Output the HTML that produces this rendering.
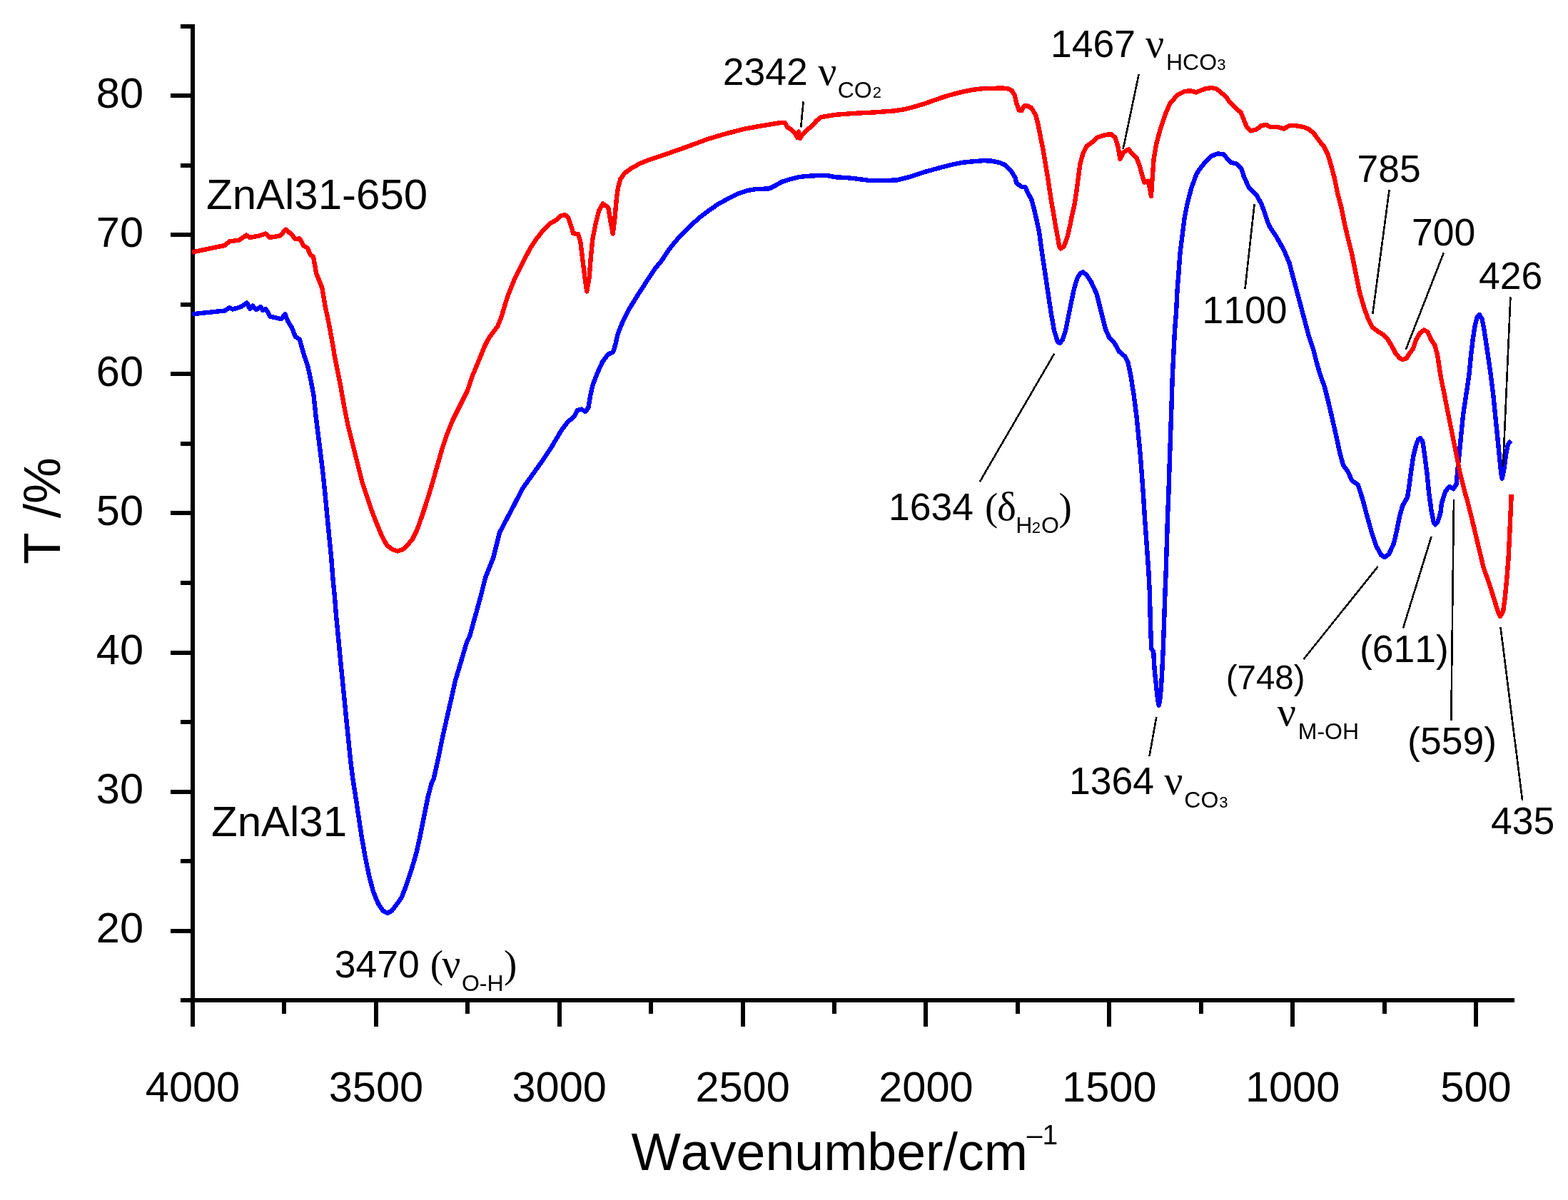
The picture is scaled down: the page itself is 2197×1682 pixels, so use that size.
<!DOCTYPE html>
<html lang="en">
<head>
<meta charset="utf-8">
<title>FTIR spectra of ZnAl31 and ZnAl31-650</title>
<style>
html,body{margin:0;padding:0;background:#fff;}
body{width:2197px;height:1682px;overflow:hidden;font-family:"Liberation Sans",Arial,sans-serif;}
svg{display:block;}
</style>
</head>
<body>
<svg width="2197" height="1682" viewBox="0 0 2197 1682" role="img" aria-label="FTIR transmittance spectra of ZnAl31 and ZnAl31-650">
<rect x="0" y="0" width="2197" height="1682" fill="#fff"/>
<g fill="#000" shape-rendering="crispEdges">
<rect x="267" y="34" width="6" height="1405"/>
<rect x="253" y="1399" width="1869" height="6"/>
<rect x="253" y="34" width="16" height="6"/>
<rect x="239" y="131" width="30" height="6"/>
<rect x="253" y="229" width="16" height="6"/>
<rect x="239" y="326" width="30" height="6"/>
<rect x="253" y="424" width="16" height="6"/>
<rect x="239" y="521" width="30" height="6"/>
<rect x="253" y="619" width="16" height="6"/>
<rect x="239" y="716" width="30" height="6"/>
<rect x="253" y="814" width="16" height="6"/>
<rect x="239" y="912" width="30" height="6"/>
<rect x="253" y="1009" width="16" height="6"/>
<rect x="239" y="1107" width="30" height="6"/>
<rect x="253" y="1204" width="16" height="6"/>
<rect x="239" y="1302" width="30" height="6"/>
<rect x="395" y="1402" width="6" height="19"/>
<rect x="524" y="1402" width="6" height="37"/>
<rect x="652" y="1402" width="6" height="19"/>
<rect x="781" y="1402" width="6" height="37"/>
<rect x="909" y="1402" width="6" height="19"/>
<rect x="1038" y="1402" width="6" height="37"/>
<rect x="1166" y="1402" width="6" height="19"/>
<rect x="1294" y="1402" width="6" height="37"/>
<rect x="1423" y="1402" width="6" height="19"/>
<rect x="1551" y="1402" width="6" height="37"/>
<rect x="1680" y="1402" width="6" height="19"/>
<rect x="1808" y="1402" width="6" height="37"/>
<rect x="1937" y="1402" width="6" height="19"/>
<rect x="2065" y="1402" width="6" height="37"/>
</g>
<path d="M269.3,440.3 L314.7,435.5 L321.5,431.4 L326.3,433.5 L337.9,430.0 L346.1,424.6 L350.2,432.8 L354.3,428.7 L359.1,434.2 L365.2,430.0 L368.0,434.9 L372.1,432.8 L376.2,439.0 L378.2,443.7 L385.7,445.1 L393.9,447.2 L399.4,440.3 L403.5,450.6 L409.0,459.5 L413.8,471.8 L419.9,475.9 L424.0,490.9 L426.7,500.0 L431.4,513.7 L435.5,532.8 L439.6,554.7 L442.4,582.0 L445.8,609.3 L449.2,636.7 L452.6,664.0 L455.4,691.3 L458.8,727.3 L461.5,754.7 L464.2,782.0 L466.3,809.3 L469.0,836.7 L471.1,864.0 L473.8,891.3 L477.2,927.3 L480.0,954.7 L482.7,982.0 L485.4,1009.3 L488.2,1036.7 L490.9,1064.0 L494.3,1091.3 L498.4,1117.3 L502.5,1144.7 L506.6,1172.0 L511.4,1199.3 L516.9,1226.7 L523.0,1249.9 L529.8,1266.3 L536.7,1276.6 L542.8,1280.0 L549.0,1276.6 L555.8,1267.7 L562.6,1258.1 L569.5,1240.3 L576.3,1219.8 L583.1,1196.6 L588.6,1172.0 L594.1,1144.7 L599.5,1117.3 L605.0,1096.8 L607.7,1091.3 L613.9,1064.0 L619.4,1036.7 L625.5,1009.3 L631.7,982.0 L637.8,954.7 L646.0,927.3 L654.0,900.0 L658.3,891.3 L665.8,864.0 L673.3,836.7 L680.2,809.3 L691.1,782.0 L700.0,746.5 L721.8,705.0 L732.0,685.0 L745.7,665.9 L759.3,646.7 L773.0,626.2 L786.7,603.0 L794.9,592.1 L804.4,583.9 L809.2,575.0 L814.7,573.6 L820.2,577.0 L824.3,571.6 L827.0,555.2 L830.4,540.1 L837.2,522.4 L844.1,507.3 L852.3,496.4 L858.9,493.7 L862.0,484.1 L865.9,467.2 L872.0,452.2 L881.6,433.1 L892.5,415.3 L904.8,396.2 L918.5,375.7 L927.4,365.0 L937.7,349.1 L951.3,332.7 L965.0,319.0 L978.7,306.1 L992.3,295.8 L1006.0,286.2 L1019.7,278.7 L1033.3,271.9 L1047.0,267.1 L1059.5,265.1 L1077.8,264.4 L1086.0,260.3 L1095.6,254.8 L1106.5,251.4 L1120.2,248.0 L1130.0,246.9 L1143.7,246.2 L1160.0,246.2 L1171.0,248.3 L1184.7,249.0 L1198.3,250.3 L1218.8,253.1 L1239.3,253.1 L1257.1,252.4 L1273.5,248.3 L1294.0,241.5 L1321.3,233.9 L1335.0,230.5 L1348.7,227.8 L1362.3,226.4 L1378.7,225.1 L1389.7,225.7 L1400.0,227.8 L1408.2,231.2 L1416.4,239.4 L1422.6,249.0 L1423.9,255.8 L1430.1,261.3 L1436.9,262.6 L1441.0,272.2 L1445.1,279.0 L1449.2,294.1 L1452.6,309.1 L1456.0,325.0 L1460.1,354.7 L1464.2,382.0 L1468.3,409.3 L1472.4,436.7 L1477.2,464.0 L1482.0,479.0 L1484.7,481.1 L1488.8,476.3 L1492.9,464.0 L1497.0,443.5 L1501.1,423.0 L1505.2,403.9 L1509.3,390.2 L1513.4,383.4 L1517.5,381.3 L1523.0,386.1 L1528.5,394.3 L1536.7,412.1 L1540.8,428.5 L1544.9,444.9 L1549.0,461.3 L1554.4,473.6 L1561.3,480.4 L1568.1,492.7 L1576.3,499.5 L1580.4,507.7 L1584.3,526.0 L1588.8,554.7 L1592.3,582.0 L1595.0,609.3 L1597.7,636.7 L1599.8,664.0 L1601.8,691.3 L1603.9,725.0 L1609.3,800.0 L1610.7,827.3 L1611.8,868.3 L1613.2,909.3 L1616.2,913.4 L1617.5,936.7 L1620.3,964.0 L1622.3,981.8 L1623.7,988.6 L1625.7,977.7 L1627.8,950.3 L1629.8,909.3 L1631.2,868.3 L1632.6,827.3 L1633.7,800.0 L1636.0,725.0 L1637.4,691.3 L1638.7,650.3 L1640.1,609.3 L1641.5,568.3 L1642.8,527.3 L1644.6,491.3 L1646.0,464.0 L1648.1,436.7 L1649.4,409.3 L1651.5,382.0 L1653.5,354.7 L1656.9,327.3 L1659.7,305.0 L1663.8,284.5 L1669.2,264.0 L1676.1,244.9 L1680.0,238.0 L1688.2,228.0 L1697.8,218.5 L1706.0,215.5 L1714.2,216.2 L1719.6,222.3 L1725.1,227.8 L1733.3,229.8 L1739.4,236.7 L1742.9,247.6 L1749.7,262.6 L1760.6,273.6 L1767.5,285.9 L1772.9,300.9 L1777.0,313.2 L1779.1,317.8 L1787.3,330.1 L1798.3,349.2 L1806.5,368.3 L1811.9,388.8 L1817.4,409.3 L1822.9,429.8 L1828.3,450.3 L1833.8,470.8 L1840.6,491.3 L1844.7,507.7 L1849.1,523.2 L1856.0,542.4 L1861.4,564.2 L1866.9,587.5 L1872.4,612.1 L1877.8,636.7 L1881.9,651.7 L1888.8,661.3 L1894.2,673.6 L1902.4,679.0 L1906.5,691.3 L1909.3,700.0 L1914.7,720.5 L1921.6,745.1 L1928.4,765.6 L1935.2,777.9 L1940.0,781.3 L1946.2,776.5 L1953.0,761.5 L1957.1,743.7 L1961.2,723.2 L1965.3,708.7 L1972.1,696.8 L1974.9,677.7 L1977.6,657.2 L1980.3,639.4 L1984.4,623.0 L1987.2,616.2 L1989.9,614.1 L1993.3,618.9 L1996.0,636.7 L1999.5,664.0 L2002.2,691.3 L2005.6,716.0 L2009.0,733.5 L2011.1,735.3 L2014.5,731.4 L2018.6,717.8 L2020.0,705.0 L2025.4,688.6 L2030.9,681.8 L2036.4,685.2 L2040.5,679.0 L2042.5,657.2 L2044.6,636.7 L2047.3,609.3 L2050.0,582.0 L2054.1,554.7 L2058.2,527.3 L2061.1,497.6 L2063.8,474.8 L2066.6,456.6 L2069.7,444.7 L2072.9,441.1 L2076.6,447.4 L2079.3,461.1 L2082.1,479.3 L2084.8,497.6 L2089.0,527.3 L2092.4,554.7 L2095.1,582.0 L2097.9,609.3 L2100.6,636.7 L2103.3,664.0 L2104.7,670.8 L2107.4,657.2 L2110.2,636.7 L2112.9,623.0 L2117.0,617.5" fill="none" stroke="#0000ff" stroke-width="6.4" stroke-linejoin="round" stroke-linecap="butt" shape-rendering="crispEdges"/>
<path d="M269.3,353.5 L314.7,344.0 L321.5,338.5 L335.2,336.5 L345.4,329.6 L350.2,333.0 L363.9,330.3 L372.1,327.6 L378.2,333.0 L392.6,330.3 L400.5,321.7 L409.0,329.0 L413.8,335.1 L419.9,334.4 L425.4,344.7 L430.8,347.4 L434.9,357.0 L439.0,359.7 L443.1,382.9 L451.3,403.4 L455.4,428.0 L460.9,454.0 L466.4,484.0 L469.0,500.0 L473.1,520.5 L477.2,541.0 L482.0,568.3 L487.5,595.7 L494.3,623.0 L501.1,650.3 L508.0,677.7 L516.2,702.3 L521.6,717.8 L528.5,735.5 L535.3,751.9 L542.1,764.2 L550.3,770.4 L557.2,772.4 L564.0,770.4 L570.8,764.2 L577.7,756.0 L584.5,742.4 L591.3,723.2 L598.2,702.3 L605.7,677.7 L613.4,650.3 L619.3,629.8 L626.1,609.3 L634.3,588.8 L646.6,564.2 L654.8,547.8 L661.7,527.3 L671.1,505.0 L678.0,487.7 L684.8,474.1 L697.1,457.7 L702.6,444.0 L706.7,430.3 L710.8,416.7 L716.2,403.0 L721.7,389.3 L728.5,375.7 L735.4,362.0 L743.6,347.0 L751.8,334.7 L761.3,322.4 L770.4,313.5 L778.7,308.7 L786.7,301.9 L792.1,301.5 L796.2,305.3 L800.3,316.9 L803.1,327.1 L809.9,328.1 L813.3,338.8 L816.1,362.0 L819.5,389.3 L822.2,408.5 L825.6,389.3 L827.7,362.0 L830.4,334.7 L834.5,314.2 L839.3,295.0 L844.8,285.5 L852.3,291.0 L855.3,309.0 L858.7,327.5 L861.5,305.5 L863.9,278.0 L866.0,263.0 L869.4,250.7 L875.5,242.5 L883.7,236.4 L897.4,228.8 L911.1,223.4 L935.7,215.2 L963.0,205.6 L990.3,195.4 L1017.7,187.2 L1045.0,180.3 L1072.3,175.5 L1092.8,172.1 L1099.7,172.1 L1103.4,178.4 L1108.0,181.0 L1113.6,186.6 L1117.3,192.8 L1118.4,188.0 L1119.0,184.5 L1119.8,189.0 L1120.9,193.8 L1124.5,188.5 L1129.1,183.5 L1133.0,180.0 L1137.0,177.5 L1140.5,173.4 L1144.5,168.8 L1150.5,164.2 L1171.0,160.8 L1198.3,158.8 L1225.7,157.4 L1253.0,155.4 L1266.7,153.3 L1280.3,149.9 L1294.0,145.8 L1307.7,141.0 L1321.3,136.2 L1335.0,132.1 L1348.7,128.7 L1362.3,126.0 L1376.0,124.3 L1389.7,123.9 L1403.3,123.5 L1411.2,123.9 L1417.4,126.6 L1421.5,133.0 L1424.5,145.5 L1427.6,154.3 L1431.5,155.2 L1434.9,148.5 L1439.6,148.5 L1445.1,151.3 L1451.3,161.5 L1454.7,175.2 L1458.1,192.9 L1461.5,209.3 L1464.9,229.8 L1468.3,250.3 L1472.4,277.7 L1475.9,298.2 L1479.3,318.7 L1481.0,327.0 L1484.1,345.1 L1486.1,348.5 L1490.9,345.1 L1495.7,331.4 L1499.8,313.7 L1502.0,302.0 L1505.2,288.6 L1508.0,270.8 L1510.7,250.3 L1513.4,229.8 L1517.5,214.8 L1523.0,204.5 L1529.8,199.8 L1536.7,192.9 L1544.9,190.2 L1550.3,188.8 L1557.2,188.2 L1562.6,192.9 L1566.7,206.6 L1569.5,223.0 L1574.3,213.4 L1581.1,209.3 L1585.9,214.8 L1592.7,221.6 L1596.8,232.6 L1600.9,247.6 L1603.6,255.8 L1608.4,253.8 L1611.2,264.0 L1612.9,274.9 L1614.6,250.3 L1616.6,223.0 L1620.0,202.5 L1625.5,182.0 L1632.3,161.5 L1639.2,145.1 L1650.1,132.8 L1659.7,128.0 L1667.9,127.3 L1676.1,129.4 L1684.3,126.0 L1688.2,124.6 L1697.8,123.0 L1704.6,124.6 L1711.4,130.1 L1718.3,136.2 L1722.4,142.4 L1729.2,149.2 L1738.8,158.1 L1742.9,168.3 L1747.0,177.9 L1752.4,183.4 L1760.6,181.3 L1767.5,175.9 L1774.3,174.9 L1779.8,177.9 L1790.7,178.2 L1798.9,180.4 L1807.1,175.9 L1813.9,175.9 L1826.2,177.9 L1834.4,181.3 L1841.3,187.5 L1848.1,197.0 L1854.9,205.2 L1860.4,216.2 L1864.5,229.8 L1870.0,250.3 L1874.1,270.8 L1879.5,291.3 L1883.6,311.8 L1887.1,327.3 L1893.9,354.7 L1899.4,382.0 L1904.9,409.3 L1911.7,432.6 L1917.2,447.6 L1922.6,458.5 L1930.8,464.7 L1939.0,469.5 L1945.9,477.7 L1951.3,487.2 L1955.4,495.4 L1960.9,501.6 L1965.0,504.3 L1970.5,502.3 L1975.9,494.1 L1980.0,488.6 L1984.1,476.3 L1989.6,466.7 L1995.1,462.6 L2000.5,465.4 L2005.3,476.3 L2010.1,483.1 L2014.2,498.2 L2018.6,527.3 L2024.1,554.7 L2029.5,582.0 L2035.0,609.3 L2040.5,636.7 L2045.9,664.0 L2052.8,691.3 L2055.5,700.0 L2062.3,727.3 L2070.5,761.5 L2078.7,795.7 L2086.9,818.9 L2093.8,840.8 L2099.2,858.5 L2102.0,864.0 L2106.1,857.2 L2108.8,836.7 L2111.5,809.3 L2113.6,782.0 L2115.6,741.0 L2117.7,693.0" fill="none" stroke="#ff0000" stroke-width="6.4" stroke-linejoin="round" stroke-linecap="butt" shape-rendering="crispEdges"/>
<g font-family="'Liberation Sans', Arial, sans-serif" fill="#000" style="font-kerning:none">
<text x="201" y="1321.0" font-size="59.5" text-anchor="end">20</text>
<text x="201" y="1125.9" font-size="59.5" text-anchor="end">30</text>
<text x="201" y="930.8" font-size="59.5" text-anchor="end">40</text>
<text x="201" y="735.7" font-size="59.5" text-anchor="end">50</text>
<text x="201" y="540.7" font-size="59.5" text-anchor="end">60</text>
<text x="201" y="345.6" font-size="59.5" text-anchor="end">70</text>
<text x="201" y="150.5" font-size="59.5" text-anchor="end">80</text>
<text x="270.0" y="1543.5" font-size="59.5" text-anchor="middle">4000</text>
<text x="526.9" y="1543.5" font-size="59.5" text-anchor="middle">3500</text>
<text x="783.7" y="1543.5" font-size="59.5" text-anchor="middle">3000</text>
<text x="1040.6" y="1543.5" font-size="59.5" text-anchor="middle">2500</text>
<text x="1297.4" y="1543.5" font-size="59.5" text-anchor="middle">2000</text>
<text x="1554.3" y="1543.5" font-size="59.5" text-anchor="middle">1500</text>
<text x="1811.1" y="1543.5" font-size="59.5" text-anchor="middle">1000</text>
<text x="2068.0" y="1543.5" font-size="59.5" text-anchor="middle">500</text>
<text><tspan x="289.0" y="292.7" font-size="60">ZnAl31-650</tspan></text>
<text><tspan x="296.0" y="1172.0" font-size="60">ZnAl31</tspan></text>
<text><tspan x="1012.8" y="118.9" font-size="53.5">2342 </tspan><tspan x="1146.2" y="118.5" font-family="'Liberation Serif', 'Times New Roman', serif" font-size="58">ν</tspan><tspan x="1173.7" y="137.3" font-size="32">CO</tspan><tspan x="1222.7" y="136.9" font-size="22">2</tspan></text>
<text><tspan x="1472.0" y="80.1" font-size="53.5">1467 </tspan><tspan x="1605.1" y="80.1" font-family="'Liberation Serif', 'Times New Roman', serif" font-size="58">ν</tspan><tspan x="1634.0" y="97.9" font-size="32">HCO</tspan><tspan x="1705.3" y="97.9" font-size="22">3</tspan></text>
<text><tspan x="1245.0" y="729.1" font-size="53.5">1634 </tspan><tspan x="1380.1" y="728.8" font-family="'Liberation Serif', 'Times New Roman', serif" font-size="55">(</tspan><tspan x="1397.1" y="729.0" font-family="'Liberation Serif', 'Times New Roman', serif" font-size="57">δ</tspan><tspan x="1423.3" y="747.0" font-size="32">H</tspan><tspan x="1445.8" y="747.0" font-size="22">2</tspan><tspan x="1459.0" y="747.3" font-size="32">O</tspan><tspan x="1483.5" y="728.8" font-family="'Liberation Serif', 'Times New Roman', serif" font-size="55">)</tspan></text>
<text><tspan x="1684.4" y="453.1" font-size="53.5">1100</tspan></text>
<text><tspan x="1901.6" y="254.7" font-size="53.5">785</tspan></text>
<text><tspan x="1977.9" y="343.5" font-size="53.5">700</tspan></text>
<text><tspan x="2072.0" y="404.6" font-size="53.5">426</tspan></text>
<text><tspan x="1717.7" y="966.2" font-size="47.5">(748)</tspan></text>
<text><tspan x="1789.7" y="1017.1" font-family="'Liberation Serif', 'Times New Roman', serif" font-size="58">ν</tspan><tspan x="1818.8" y="1036.0" font-size="32">M-OH</tspan></text>
<text><tspan x="1904.9" y="927.9" font-size="53.5">(611)</tspan></text>
<text><tspan x="1972.1" y="1057.4" font-size="53.5">(559)</tspan></text>
<text><tspan x="2088.9" y="1169.1" font-size="53.5">435</tspan></text>
<text><tspan x="1497.9" y="1113.0" font-size="53.5">1364 </tspan><tspan x="1631.3" y="1112.7" font-family="'Liberation Serif', 'Times New Roman', serif" font-size="58">ν</tspan><tspan x="1659.3" y="1131.5" font-size="32">CO</tspan><tspan x="1708.2" y="1131.5" font-size="22">3</tspan></text>
<text><tspan x="468.8" y="1370.0" font-size="53.5">3470 </tspan><tspan x="602.7" y="1369.9" font-family="'Liberation Serif', 'Times New Roman', serif" font-size="55">(</tspan><tspan x="619.2" y="1369.9" font-family="'Liberation Serif', 'Times New Roman', serif" font-size="58">ν</tspan><tspan x="646.9" y="1388.7" font-size="32">O-H</tspan><tspan x="706.0" y="1369.9" font-family="'Liberation Serif', 'Times New Roman', serif" font-size="55">)</tspan></text>
<text x="884.5" y="1640" font-size="73.5">Wavenumber/cm<tspan x="1438.7" y="1603.7" font-size="39">–1</tspan></text>
<text transform="translate(84,716) rotate(-90)" font-size="73" text-anchor="middle">T /%</text>
</g>
<g stroke="#000" stroke-width="2.6" fill="none" stroke-linecap="butt" shape-rendering="crispEdges">
<line x1="1125.6" y1="142.5" x2="1122.2" y2="178.5"/>
<line x1="1595.6" y1="104.3" x2="1573.6" y2="209.3"/>
<line x1="1477.2" y1="495.7" x2="1372.7" y2="675.5"/>
<line x1="1757.6" y1="286.0" x2="1744.5" y2="405.1"/>
<line x1="1946.6" y1="266.0" x2="1923.3" y2="440.1"/>
<line x1="2022.8" y1="354.4" x2="1969.8" y2="490.0"/>
<line x1="2116.4" y1="416.5" x2="2106.0" y2="654.4"/>
<line x1="1930.5" y1="794.3" x2="1826.5" y2="924.1"/>
<line x1="2005.6" y1="751.9" x2="1966.0" y2="880.4"/>
<line x1="2037.0" y1="700.0" x2="2033.3" y2="1010.0"/>
<line x1="2102.5" y1="879.0" x2="2133.1" y2="1122.2"/>
<line x1="1620.3" y1="1005.0" x2="1610.5" y2="1059.7"/>
</g>
</svg>
</body>
</html>
